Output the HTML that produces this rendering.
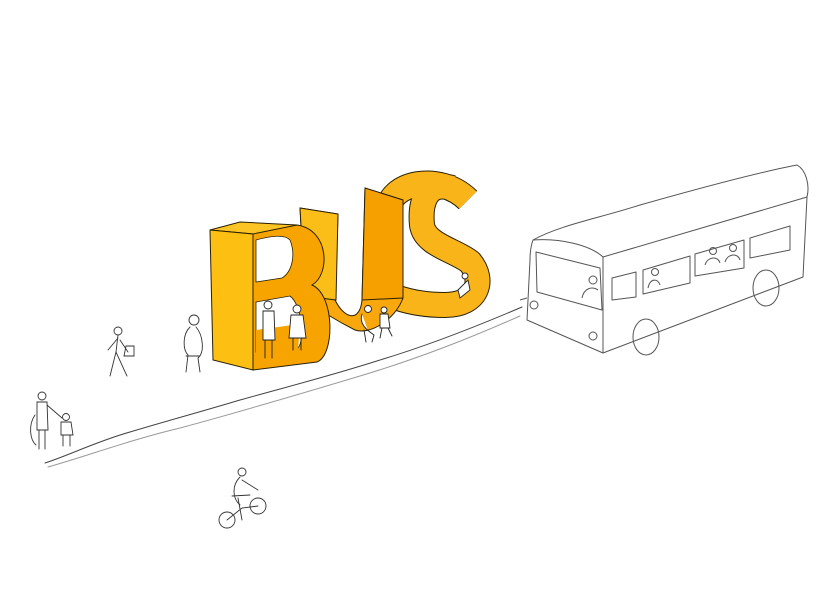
<!DOCTYPE html>
<html><head><meta charset="utf-8"><style>
html,body{margin:0;padding:0;background:#fff;}
svg{display:block;}
</style></head><body>
<svg width="818" height="600" viewBox="0 0 818 600" xmlns="http://www.w3.org/2000/svg">
<rect width="818" height="600" fill="#fff"/>
<!-- road lines -->
<g fill="none" stroke="#444" stroke-width="1" stroke-linecap="round">
<path d="M45,463 C70,455 95,442 130,432 C170,420 200,412 240,400 C290,386 330,376 380,360 C430,345 480,325 522,307"/>
<path d="M48,467 C90,455 130,440 180,428 C240,412 300,394 360,376 C420,358 470,338 520,316" stroke="#999"/>
</g>
<!-- S ribbon -->
<g fill="none" stroke-linejoin="round" stroke-linecap="butt">
<path d="M388,212 C388,182 440,172 468,200 M452,188 C425,180 420,205 422,225 C425,245 455,250 470,262 C485,280 478,305 445,305 C425,305 410,302 398,298" stroke="#2a2000" stroke-width="26"/>
<path d="M388,212 C388,182 440,172 468,200 M452,188 C425,180 420,205 422,225 C425,245 455,250 470,262 C485,280 478,305 445,305 C425,305 410,302 398,298" stroke="#f9b41a" stroke-width="24"/>
</g>
<!-- U -->
<path d="M300,208 L338,214 L335,300 C345,320 360,322 362,300 L365,188 L403,200 L403,298 C395,320 370,335 355,330 C335,320 320,310 305,300 Z" fill="#f8a80c" stroke="#2a2000" stroke-width="1"/>
<path d="M365,188 L403,200 L403,298 L362,300 Z" fill="#f6a000" stroke="#2a2000" stroke-width="1"/>
<path d="M300,208 L338,214 L336,300 L305,296 Z" fill="#fbbd18" stroke="#2a2000" stroke-width="1"/>
<!-- B -->
<path d="M253,232 L297,225 C330,230 330,275 312,285 C335,295 335,355 317,362 L253,370 Z" fill="#f7a400" stroke="#2a2000" stroke-width="1"/>
<path d="M210,230 L240,222 L297,225 L253,234 Z" fill="#fcc424" stroke="#2a2000" stroke-width="1"/>
<path d="M210,230 L253,234 L253,370 L213,360 Z" fill="#fcbf12" stroke="#2a2000" stroke-width="1"/>
<path d="M256,240 C270,236 285,234 290,240 C296,255 292,272 282,278 L256,282 Z" fill="#fff" stroke="#2a2000" stroke-width="0.8"/>
<path d="M256,302 L290,296 C302,305 305,340 298,348 L256,352 Z" fill="#fff" stroke="#2a2000" stroke-width="0.8"/>
<path d="M256,330 L300,324 L298,350 L256,356 Z" fill="#f7a400"/>
<!-- figures -->
<g fill="#fff" stroke="#222" stroke-width="0.9" stroke-linecap="round">
<circle cx="268" cy="305" r="4"/><path d="M263,311 L274,311 L275,340 L263,340 Z M265,340 L265,358 M272,340 L272,358"/>
<circle cx="297" cy="309" r="4"/><path d="M291,315 L303,315 L306,338 L289,338 Z M293,338 L293,350 M301,338 L301,350"/>
<circle cx="368" cy="309" r="3.5"/><path d="M362,314 C358,325 370,332 374,335 L372,342 M364,330 L366,342"/>
<circle cx="384" cy="310" r="3"/><path d="M380,314 L388,314 L390,328 L380,328 Z M382,328 L380,338 M388,328 L392,336"/>
<path d="M458,290 L468,280 L470,290 L460,298 Z"/><circle cx="465" cy="276" r="3"/>
</g>
<g fill="none" stroke="#333" stroke-width="0.9" stroke-linecap="round">
<!-- walker -->
<circle cx="118" cy="331" r="4"/><path d="M118,335 L116,352 L110,376 M116,352 L127,376 M118,338 L108,350 M120,340 L128,352"/><path d="M126,346 L134,346 L134,356 L124,356 Z"/>
<!-- person near B -->
<circle cx="194" cy="320" r="5"/><path d="M190,327 C182,335 183,350 188,355 L186,372 M196,327 C203,335 205,352 198,358 L200,372 M186,356 L200,356"/>
<!-- adult+child -->
<circle cx="42" cy="396" r="4"/><path d="M37,402 L47,402 L48,430 L37,430 Z M39,430 L39,449 M45,430 L45,449 M47,405 L62,418 M35,415 C28,425 30,440 36,445"/>
<circle cx="66" cy="417" r="3.5"/><path d="M61,422 L71,422 L73,435 L61,435 Z M63,435 L63,446 M70,435 L70,446"/>
<!-- cyclist -->
<circle cx="227" cy="520" r="8"/><circle cx="258" cy="506" r="8"/><path d="M227,520 L242,508 L258,506 M238,498 L242,520 M232,496 L250,495"/><circle cx="242" cy="472" r="4"/><path d="M240,477 C232,485 232,498 240,505 M242,480 L258,490"/>
</g>
<!-- bus -->
<g fill="none" stroke="#555" stroke-width="1" stroke-linejoin="round">
<path d="M533,240 C560,225 600,218 640,205 C700,188 760,172 797,165 C806,170 810,185 807,197 L803,277 L603,353 L527,320 L530,260 C530,248 532,243 533,240 Z"/>
<path d="M533,240 C560,238 590,245 603,257 L807,197"/>
<path d="M603,257 L603,353"/>
<path d="M536,252 L600,268 L602,310 L537,292 Z"/>
<path d="M612,278 L636,272 L636,297 L612,300 Z"/>
<path d="M643,270 L690,256 L690,283 L643,294 Z"/>
<path d="M695,254 L744,240 L744,268 L695,276 Z"/>
<path d="M750,238 L790,226 L790,250 L750,258 Z"/>
<ellipse cx="646" cy="337" rx="13" ry="18"/>
<ellipse cx="766" cy="288" rx="13" ry="18"/>
<circle cx="534" cy="305" r="4"/><circle cx="593" cy="336" r="4"/>
<circle cx="593" cy="280" r="4"/><path d="M582,298 C584,288 592,286 598,290"/>
<circle cx="655" cy="272" r="3.5"/><path d="M648,288 C650,278 658,278 660,285"/>
<circle cx="713" cy="251" r="3.5"/><circle cx="733" cy="248" r="3.5"/>
<path d="M705,265 C708,256 718,256 720,263 M725,262 C728,253 738,253 740,260"/>
<path d="M520,300 L527,298"/>
</g>
</svg>
</body></html>
